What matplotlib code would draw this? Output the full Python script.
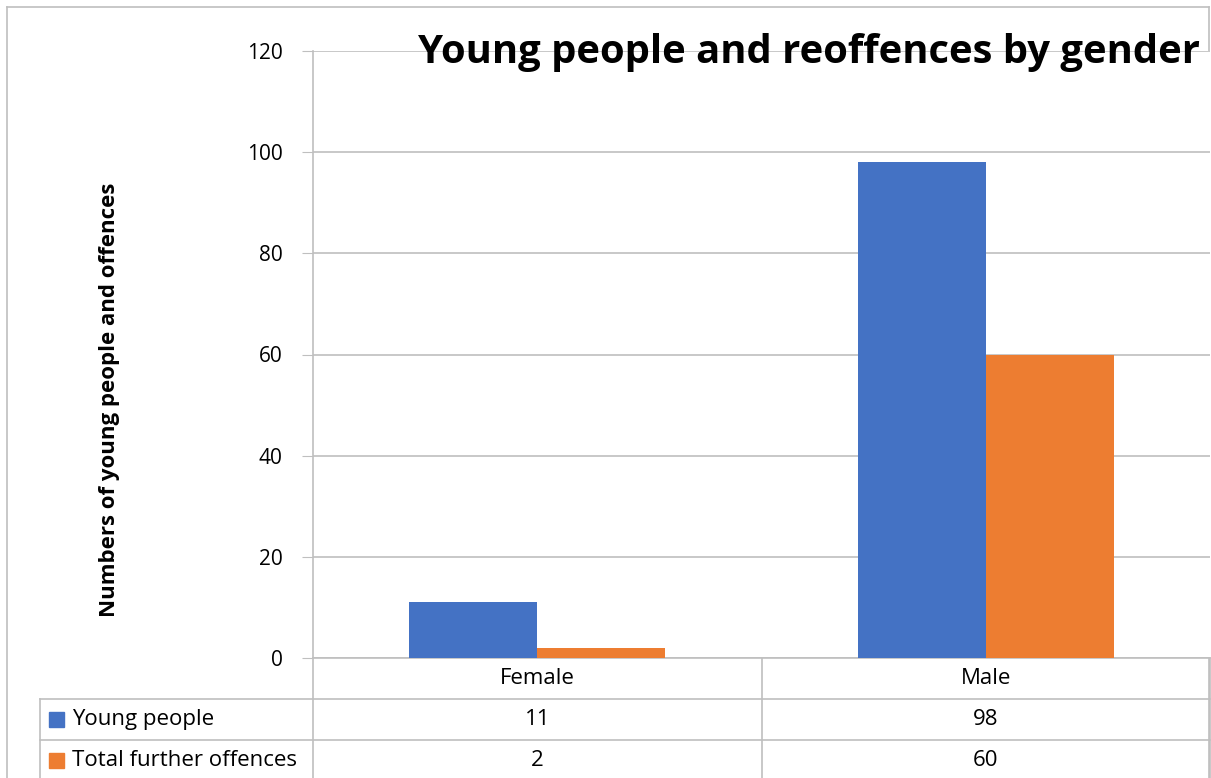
import matplotlib.pyplot as plt
from matplotlib.patches import Rectangle

# data
genders = ["Female", "Male"]
young_people = [11, 98]
further_offences = [2, 60]
series_names = ["Young people", "Total further offences"]
colors = ["#4472C4", "#ED7D31"]

W, H = 1211, 778
GRID = "#BFBFBF"
plt.rcParams['font.family'] = ['Open Sans', 'DejaVu Sans']

fig = plt.figure(figsize=(W / 100, H / 100), dpi=100)

# plot area in pixel coordinates
x0, x1 = 313, 1210
y_top, y_zero = 51, 658
ax = fig.add_axes([x0 / W, 1 - y_zero / H, (x1 - x0) / W, (y_zero - y_top) / H])

bw = 0.285
xs = range(len(genders))
ax.bar([x - bw / 2 for x in xs], young_people, bw, color=colors[0], zorder=3)
ax.bar([x + bw / 2 for x in xs], further_offences, bw, color=colors[1], zorder=3)
ax.set_xlim(-0.5, len(genders) - 0.5)
ax.set_ylim(0, 120)
ax.set_yticks(range(0, 121, 20))
ax.tick_params(axis='y', labelsize=15, length=8, color=GRID, pad=14)
ax.set_xticks([])
ax.grid(axis='y', color=GRID, linewidth=1.2, zorder=0)
for s in ['top', 'right']:
    ax.spines[s].set_visible(False)
ax.spines['left'].set_color(GRID)
ax.spines['left'].set_linewidth(1.2)
ax.spines['bottom'].set_color(GRID)
ax.spines['bottom'].set_linewidth(1.2)

fig.text(110 / W, 1 - 400 / H, "Numbers of young people and offences", rotation=90,
         fontsize=16, fontweight='bold', ha='center', va='center')
fig.text(1200 / W, 1 - 52 / H, "Young people and reoffences by gender",
         fontsize=28.8, fontweight='bold', ha='right', va='center', zorder=5)

# overlay in pixel coordinates for the border and data table
ov = fig.add_axes([0, 0, 1, 1], zorder=-1)
ov.set_xlim(0, W)
ov.set_ylim(H, 0)
ov.axis('off')
ov.patch.set_alpha(0)

# chart border
ov.plot([7, 7], [7, H], color=GRID, lw=1.2)
ov.plot([7, 1209], [7, 7], color=GRID, lw=1.2)
ov.plot([1209, 1209], [7, H], color=GRID, lw=1.2)

# data table
col_w = (x1 - x0) / len(genders)
row_y = [658, 699, 740, 780]
tab_left = 40
for y in row_y[1:3]:
    ov.plot([tab_left, x1], [y, y], color=GRID, lw=1.2)
ov.plot([tab_left, tab_left], [row_y[1], H], color=GRID, lw=1.2)
for i in range(len(genders) + 1):
    x = x0 + i * col_w
    ov.plot([x, x], [row_y[0], H], color=GRID, lw=1.2)

rows = [young_people, further_offences]
for i, g in enumerate(genders):
    cx = x0 + (i + 0.5) * col_w
    ov.text(cx, (row_y[0] + row_y[1]) / 2, g, fontsize=16, ha='center', va='center')
    for r, vals in enumerate(rows):
        ov.text(cx, (row_y[r + 1] + row_y[r + 2]) / 2, str(vals[i]),
                fontsize=16, ha='center', va='center')

for r, name in enumerate(series_names):
    yc = (row_y[r + 1] + row_y[r + 2]) / 2
    ov.add_patch(Rectangle((49, yc - 7.5), 15, 15, color=colors[r]))
    ov.text(72, yc, name, fontsize=16, ha='left', va='center')

fig.savefig("out.png", dpi=100)
